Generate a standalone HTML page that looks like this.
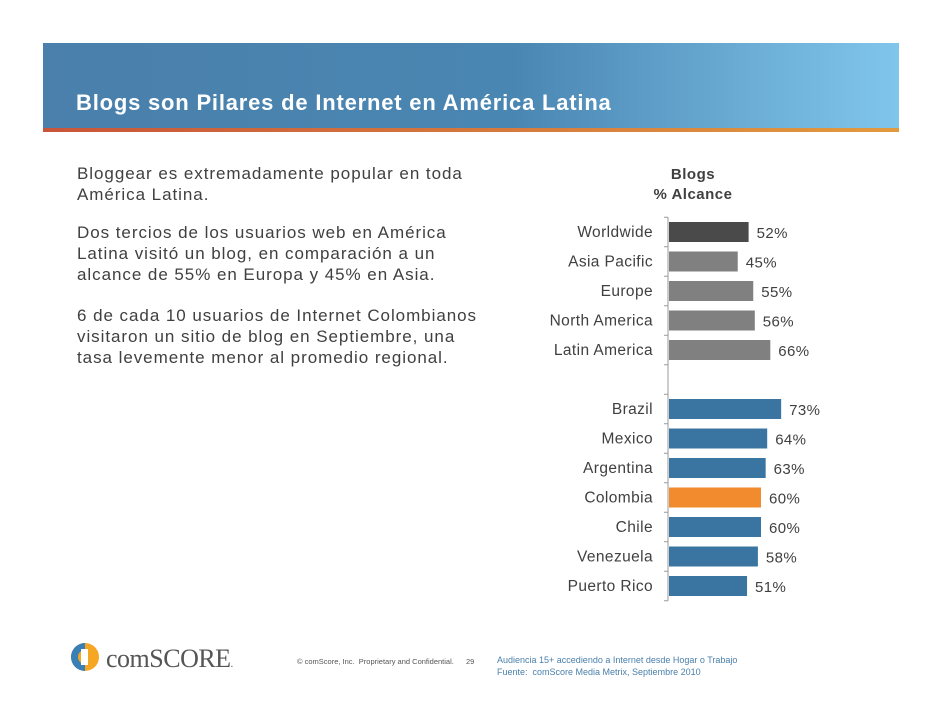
<!DOCTYPE html>
<html><head><meta charset="utf-8">
<style>
body{margin:0;width:942px;height:728px;background:#fff;position:relative;overflow:hidden;font-family:"Liberation Sans",sans-serif;}
#band{position:absolute;left:43px;top:43px;width:856px;height:85px;background:linear-gradient(90deg,#4a80ab 0%,#4a86b2 55%,#80c6ec 100%);}
#strip{position:absolute;left:43px;top:128px;width:856px;height:4px;background:linear-gradient(90deg,#c8553a,#e29a3f);}
#title{position:absolute;left:76px;top:90px;color:#fff;font-weight:bold;font-size:22px;letter-spacing:0.8px;}
.p{position:absolute;left:77px;color:#404040;font-size:17px;line-height:21px;letter-spacing:0.95px;}
#foot1{position:absolute;left:297px;top:657px;font-size:7.5px;color:#555;}
#foot2{position:absolute;left:466px;top:657px;font-size:7.5px;color:#555;}
#foot3{position:absolute;left:497px;top:654px;font-size:9px;color:#4a80ab;line-height:12px;}
#logo{position:absolute;left:70px;top:642px;font-size:26px;color:#555;font-family:"Liberation Serif",serif;letter-spacing:-0.5px;}
</style></head><body>
<div id="band"></div>
<div id="strip"></div>
<div id="title">Blogs son Pilares de Internet en América Latina</div>
<div class="p" style="top:163px">Bloggear es extremadamente popular en toda<br>América Latina.</div>
<div class="p" style="top:222px">Dos tercios de los usuarios web en América<br>Latina visitó un blog, en comparación a un<br>alcance de 55% en Europa y 45% en Asia.</div>
<div class="p" style="top:305px">6 de cada 10 usuarios de Internet Colombianos<br>visitaron un sitio de blog en Septiembre, una<br>tasa levemente menor al promedio regional.</div>

<svg id="chart" width="942" height="728" style="position:absolute;left:0;top:0">
<text x="693" y="179" text-anchor="middle" font-size="15" letter-spacing="0.5" font-weight="bold" fill="#404040">Blogs</text>
<text x="693" y="199" text-anchor="middle" font-size="15" letter-spacing="0.5" font-weight="bold" fill="#404040">% Alcance</text>
<g id="marks"></g>
</svg>

<div id="logo"><svg width="30" height="30" style="vertical-align:-5px" viewBox="0 0 30 30"><circle cx="15" cy="15" r="14" fill="#f5a623"/><path d="M15 1 A14 14 0 0 0 15 29 L15 22 A7 7 0 0 1 15 8Z" fill="#3a7fb5"/><rect x="11" y="7" width="7" height="16" fill="#fff"/></svg> comSCORE<span style="font-size:10px">.</span></div>
<div id="foot1">© comScore, Inc.&nbsp; Proprietary and Confidential.</div>
<div id="foot2">29</div>
<div id="foot3">Audiencia 15+ accediendo a Internet desde Hogar o Trabajo<br>Fuente:&nbsp; comScore Media Metrix, Septiembre 2010</div>

<script>
const categories=["Worldwide","Asia Pacific","Europe","North America","Latin America","","Brazil","Mexico","Argentina","Colombia","Chile","Venezuela","Puerto Rico"];
const values=[52,45,55,56,66,null,73,64,63,60,60,58,51];
const colors=["#4a4a4a","#808080","#808080","#808080","#808080","","#3a74a0","#3a74a0","#3a74a0","#f28a2e","#3a74a0","#3a74a0","#3a74a0"];
const x0=668, pxPer=1.55, y0=232, step=29.5, bh=20;
const xs=v=>x0+v*pxPer;
const ys=i=>y0+i*step;
const g=document.getElementById('marks');
const NS="http://www.w3.org/2000/svg";
function mk(t,a){const e=document.createElementNS(NS,t);for(const k in a)e.setAttribute(k,a[k]);g.appendChild(e);return e;}
const ax=mk('line',{x1:x0,x2:x0,y1:ys(0)-step/2,y2:ys(categories.length-1)+step/2,stroke:'#999','stroke-width':1});


for(let i=0;i<=categories.length;i++){
 const t=mk('line',{x1:x0-4,x2:x0,y1:ys(i)-step/2,y2:ys(i)-step/2,stroke:'#999'});
 
 
}
categories.forEach((c,i)=>{
 if(values[i]==null)return;
 const y=ys(i);
 const b=mk('rect',{x:x0+1,y:y-bh/2,width:xs(values[i])-x0-1,height:bh,fill:colors[i]});
 
 
 const l=mk('text',{x:653,y:y+5,'text-anchor':'end','font-size':15.5,'letter-spacing':0.4,fill:'#404040'});
 l.textContent=c;
 
 
 const v=mk('text',{x:xs(values[i])+8,y:y+6,'font-size':15,'letter-spacing':0.4,fill:'#404040'});
 v.textContent=values[i]+'%';
 
 
});
</script>
</body></html>
